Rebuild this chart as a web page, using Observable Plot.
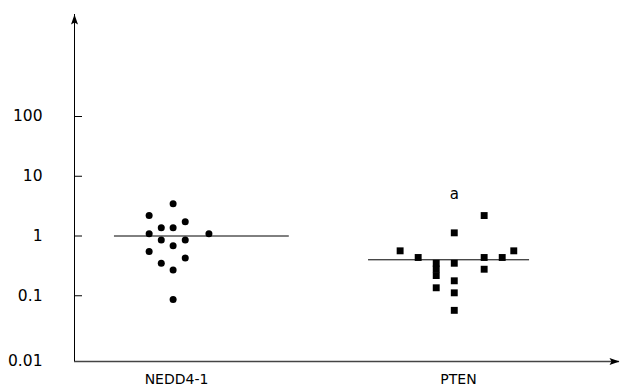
<!DOCTYPE html>
<html>
<head>
<meta charset="utf-8">
<script src="https://cdn.jsdelivr.net/npm/d3@7"></script>
<script src="https://cdn.jsdelivr.net/npm/@observablehq/plot@0.6"></script>
<style>
  html, body { margin: 0; padding: 0; background: #fff; }
  svg { display: block; }
</style>
</head>
<body>
<div id="chart"></div>
<script>
// ---- data ----
const groups = ["NEDD4-1", "PTEN"];

const nedd4Values = [3.46, 2.20, 1.37, 1.37, 1.73, 1.09, 1.09, 0.86, 0.86, 0.69, 0.55, 0.35, 0.43, 0.27, 0.087];
const nedd4Jitter = [-0.012, -0.097, -0.054, -0.012, 0.031, -0.097, 0.115, -0.054, 0.031, -0.012, -0.097, -0.054, 0.031, -0.012, -0.012];

const ptenValues = [0.565, 0.437, 0.35, 0.28, 0.218, 0.136, 1.13, 0.35, 0.178, 0.112, 0.057, 2.2, 0.437, 0.278, 0.437, 0.565];
const ptenJitter = [-0.207, -0.143, -0.079, -0.079, -0.079, -0.079, -0.015, -0.015, -0.015, -0.015, -0.015, 0.091, 0.091, 0.091, 0.155, 0.196];

const medians = [1.0, 0.40];
const medianStart = [-0.22, -0.319];
const medianEnd = [0.40, 0.252];

const annotationText = ["a"];
const annotationGroup = [1];
const annotationJitter = [-0.015];
const annotationValue = [5.1];

const yTickValues = [100, 10, 1, 0.1, 0.01];
const yTickLabels = ["100", "10", "1", "0.1", "0.01"];

// ---- scales ----
const xMin = -0.3617, xMax = 1.5709;
const yMin = 0.00794, yMax = 5095;

const nedd4 = nedd4Values.map((v, i) => ({x: 0 + nedd4Jitter[i], y: v}));
const pten = ptenValues.map((v, i) => ({x: 1 + ptenJitter[i], y: v}));
const medianRows = medians.map((m, i) => ({y: m, x1: i + medianStart[i], x2: i + medianEnd[i]}));
const annotations = annotationText.map((t, i) => ({t, x: annotationGroup[i] + annotationJitter[i], y: annotationValue[i]}));
const tickRows = yTickValues.map((v, i) => ({v, label: yTickLabels[i]}));

// custom arrowhead symbols (tip at origin)
const arrowUp = {draw(ctx) { ctx.moveTo(0, 0); ctx.lineTo(3.5, 10); ctx.lineTo(0, 8); ctx.lineTo(-3.5, 10); ctx.closePath(); }};
const arrowRight = {draw(ctx) { ctx.moveTo(0, 0); ctx.lineTo(-10, 3.5); ctx.lineTo(-8, 0); ctx.lineTo(-10, -3.5); ctx.closePath(); }};

const tickLen = 8 / 282;
const font = "DejaVu Sans, Verdana, sans-serif";

const chart = Plot.plot({
  width: 620,
  height: 389,
  marginLeft: 74,
  marginRight: 1,
  marginTop: 14,
  marginBottom: 28,
  style: {fontFamily: font, fontSize: "15px", color: "#000", background: "#fff"},
  x: {type: "linear", domain: [xMin, xMax], axis: null},
  y: {type: "log", domain: [yMin, yMax], axis: null},
  marks: [
    // x axis line
    Plot.ruleY([yMin], {x1: xMin, x2: xMax, stroke: "#444", strokeWidth: 1.4}),
    // y axis line
    Plot.ruleX([xMin], {y1: yMin, y2: yMax, stroke: "#000", strokeWidth: 1}),
    // arrowheads
    Plot.dot([{x: xMin, y: yMax}], {x: "x", y: "y", symbol: arrowUp, fill: "#000", stroke: null}),
    Plot.dot([{x: xMax, y: yMin}], {x: "x", y: "y", symbol: arrowRight, fill: "#000", stroke: null}),
    // y ticks (inward)
    Plot.ruleY(tickRows.filter(d => d.v > 0.01), {y: "v", x1: xMin, x2: xMin + tickLen, stroke: "#000"}),
    // y tick labels
    Plot.text(tickRows.filter(d => d.v > 0.01), {x: xMin, y: "v", text: "label", textAnchor: "end", dx: -32, fontSize: 15.5}),
    Plot.text(tickRows.filter(d => d.v === 0.01), {x: xMin, y: "v", text: "label", textAnchor: "end", dx: -32, dy: 6, fontSize: 15.5}),
    // category labels
    Plot.text(groups, {x: (d, i) => i, y: yMin, text: d => d, dy: 18, fontSize: 14}),
    // median lines
    Plot.ruleY(medianRows, {y: "y", x1: "x1", x2: "x2", stroke: "#000", strokeWidth: 1}),
    // points
    Plot.dot(nedd4, {x: "x", y: "y", r: 3.5, fill: "#000", stroke: null, symbol: "circle"}),
    Plot.dot(pten, {x: "x", y: "y", r: 3.9, fill: "#000", stroke: null, symbol: "square"}),
    // annotation
    Plot.text(annotations, {x: "x", y: "y", text: "t", fontSize: 15})
  ]
});

document.getElementById("chart").appendChild(chart);
</script>
</body>
</html>
